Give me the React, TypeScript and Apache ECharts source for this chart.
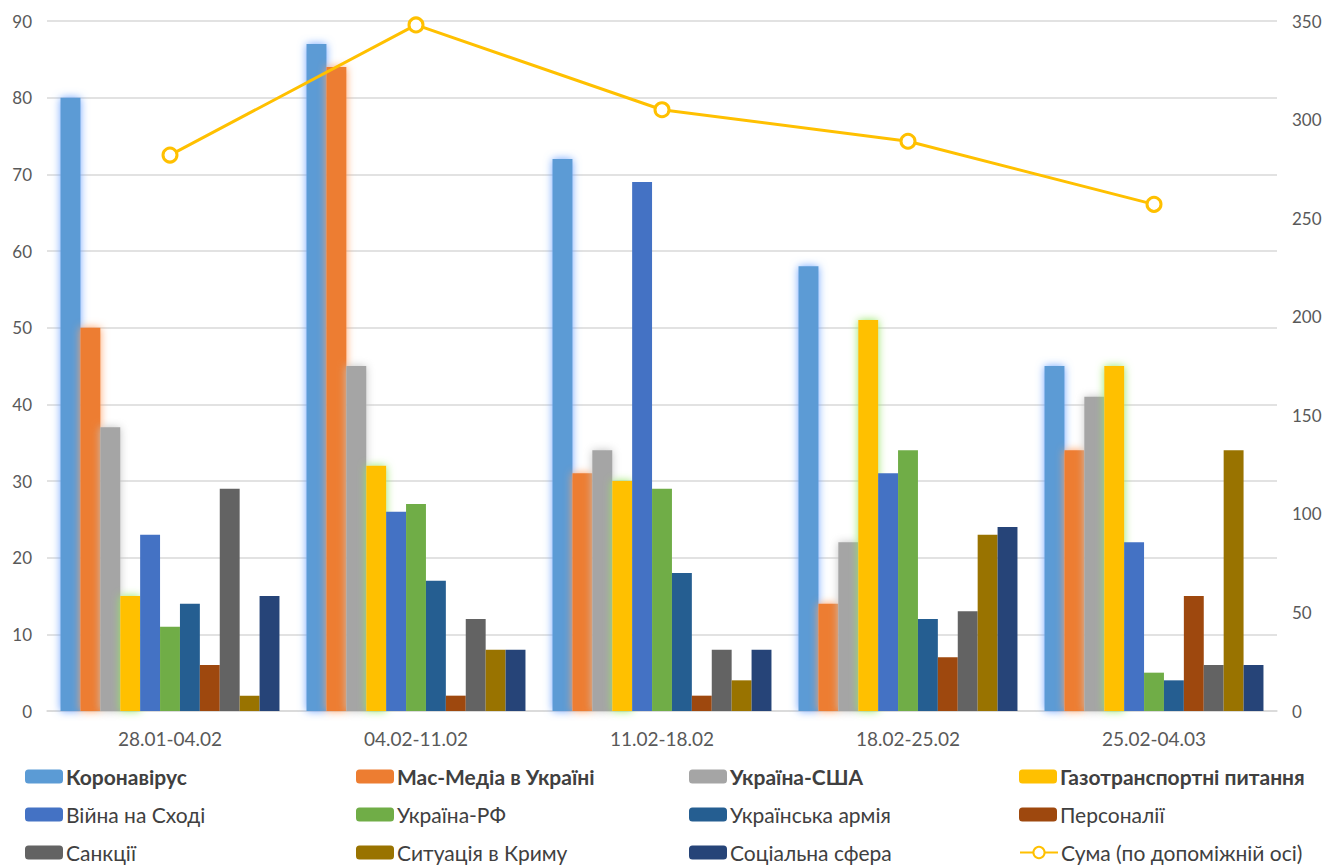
import React, { useEffect, useRef } from "react";
import * as echarts from "echarts";

const categories = ["28.01-04.02", "04.02-11.02", "11.02-18.02", "18.02-25.02", "25.02-04.03"];

const koronavirus = [80, 87, 72, 58, 45];
const masMedia = [50, 84, 31, 14, 34];
const ukrUsa = [37, 45, 34, 22, 41];
const gaz = [15, 32, 30, 51, 45];
const viina = [23, 26, 69, 31, 22];
const ukrRf = [11, 27, 29, 34, 5];
const armiia = [14, 17, 18, 12, 4];
const personalii = [6, 2, 2, 7, 15];
const sanktsii = [29, 12, 8, 13, 6];
const krym = [2, 8, 4, 23, 34];
const sotsialna = [15, 8, 8, 24, 6];
const suma = [282, 348, 305, 289, 257];

const leftTicks = { min: 0, max: 90, interval: 10 };
const rightTicks = { min: 0, max: 350, interval: 50 };

const FONT = "Lato, 'Open Sans', sans-serif";

const barDefs = [
  { name: "Коронавірус", data: koronavirus, color: "#5B9BD5", glow: "rgba(110,165,255,1)", bold: true },
  { name: "Мас-Медіа в Україні", data: masMedia, color: "#ED7D31", glow: "rgba(255,160,100,1)", bold: true },
  { name: "Україна-США", data: ukrUsa, color: "#A5A5A5", glow: "rgba(195,195,195,1)", bold: true },
  { name: "Газотранспортні питання", data: gaz, color: "#FFC000", glow: "rgba(150,230,100,1)", bold: true },
  { name: "Війна на Сході", data: viina, color: "#4472C4" },
  { name: "Україна-РФ", data: ukrRf, color: "#70AD47" },
  { name: "Українська армія", data: armiia, color: "#255E91" },
  { name: "Персоналії", data: personalii, color: "#9E480E" },
  { name: "Санкції", data: sanktsii, color: "#636363" },
  { name: "Ситуація в Криму", data: krym, color: "#997300" },
  { name: "Соціальна сфера", data: sotsialna, color: "#264478" },
];

const lineName = "Сума (по допоміжній осі)";

// legend layout order (rows of 4)
const legendOrder = [
  "Коронавірус", "Мас-Медіа в Україні", "Україна-США", "Газотранспортні питання",
  "Війна на Сході", "Україна-РФ", "Українська армія", "Персоналії",
  "Санкції", "Ситуація в Криму", "Соціальна сфера", lineName,
];
const colLeft = [25, 356, 689, 1019];
const rowTop = [766, 804, 842];

export default function App() {
  const ref = useRef<HTMLDivElement>(null);
  useEffect(() => {
    document.body.style.margin = "0";
    const chart = echarts.init(ref.current!, null, { renderer: "svg" });
    const series: any[] = barDefs.map((b) => ({
      name: b.name,
      type: "bar",
      data: b.data,
      barGap: "0%",
      barCategoryGap: "11%",
      itemStyle: b.glow
        ? { color: b.color, shadowBlur: 9, shadowColor: b.glow }
        : { color: b.color },
    }));
    series.push({
      name: lineName,
      type: "line",
      yAxisIndex: 1,
      data: suma,
      symbol: "circle",
      symbolSize: 14,
      lineStyle: { color: "#FFC000", width: 3 },
      itemStyle: { color: "#FFFFFF", borderColor: "#FFC000", borderWidth: 3 },
      z: 5,
    });
    const legends = legendOrder.map((name, i) => {
      const def = barDefs.find((b) => b.name === name);
      return {
        left: colLeft[i % 4],
        top: rowTop[Math.floor(i / 4)],
        orient: "horizontal",
        itemWidth: 38,
        itemHeight: 14,
        itemGap: 4,
        padding: 0,
        data: [
          {
            name,
            textStyle: {
              fontWeight: def && def.bold ? "bold" : "normal",
            },
          },
        ],
        textStyle: { fontFamily: FONT, fontSize: 21, color: "#404040", padding: [0, 0, 0, -2] },
      };
    });
    chart.setOption({
      animation: false,
      textStyle: { fontFamily: FONT },
      grid: { left: 47, right: 48, top: 21, bottom: 156, containLabel: false },
      legend: legends,
      xAxis: {
        type: "category",
        data: categories,
        axisLine: { lineStyle: { color: "#D9D9D9", width: 1.5 } },
        axisTick: { show: false },
        axisLabel: { color: "#595959", fontSize: 19, margin: 18, fontFamily: FONT },
      },
      yAxis: [
        {
          type: "value",
          ...leftTicks,
          axisLine: { show: false },
          axisTick: { show: false },
          axisLabel: { color: "#595959", fontSize: 17, margin: 15, fontFamily: FONT },
          splitLine: { lineStyle: { color: "#D9D9D9", width: 1.5 } },
        },
        {
          type: "value",
          ...rightTicks,
          axisLine: { show: false },
          axisTick: { show: false },
          axisLabel: { color: "#595959", fontSize: 17, margin: 15, fontFamily: FONT },
          splitLine: { show: false },
        },
      ],
      series,
    });
    return () => chart.dispose();
  }, []);
  return <div ref={ref} style={{ width: 1325, height: 867 }} />;
}
